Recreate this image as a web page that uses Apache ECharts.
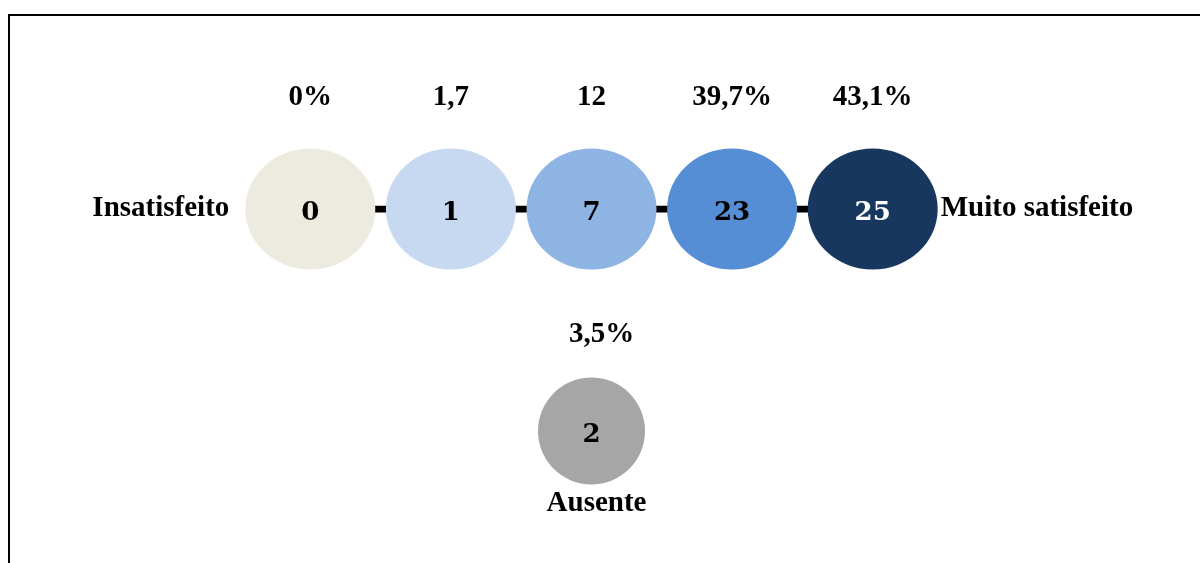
<!DOCTYPE html>
<html>
<head>
<meta charset="utf-8">
<script src="https://cdn.jsdelivr.net/npm/echarts@6/dist/echarts.min.js"></script>
<style>
  html, body { margin: 0; padding: 0; background: #fff; }
  #chart { width: 1200px; height: 563px; }
</style>
</head>
<body>
<div id="chart"></div>
<script>
// escala de satisfação
var escala = ['Insatisfeito', '2', '3', '4', 'Muito satisfeito'];
var linhas = ['Ausente', 'Escala'];
var contagens = [0, 1, 7, 23, 25];
var percentuais = ['0%', '1,7', '12', '39,7%', '43,1%'];
var cores = ['#EDEBE0', '#C6D9F0', '#8EB4E3', '#558ED5', '#17375E'];
var corTexto = ['#000', '#000', '#000', '#000', '#fff'];
var ausenteContagem = 2;
var ausentePercentual = '3,5%';
var ausenteCor = '#A6A6A6';
var ausenteIndice = 2;

var fonteRotulo = { fontFamily: 'Liberation Serif', fontWeight: 'bold', fontSize: 29, color: '#000' };
var fonteNumero = { fontFamily: 'DejaVu Serif', fontWeight: 'bold', fontSize: 26 };

function init(){
    var myChart = echarts.init(document.getElementById('chart'));

    var bolhas = contagens.map(function(v, i){
        return {
            value: [i, 1],
            itemStyle: { color: cores[i] },
            label: { formatter: String(v), color: corTexto[i] }
        };
    });
    bolhas.push({
        value: [ausenteIndice, 0],
        symbolSize: [107, 107],
        itemStyle: { color: ausenteCor },
        label: { formatter: String(ausenteContagem), color: '#000' }
    });

    var option = {
        animation: false,
        grid: { left: 240, right: 257, top: 209, bottom: 132 },
        xAxis: { type: 'category', data: escala, show: false },
        yAxis: { type: 'category', data: linhas, boundaryGap: false, show: false },
        graphic: [{
            type: 'rect',
            shape: { x: 9, y: 15, width: 1220, height: 600 },
            style: { fill: null, stroke: '#000', lineWidth: 2 }
        }],
        series: [
            {
                // conectores + percentuais
                type: 'line',
                z: 1,
                data: contagens.map(function(v, i){ return [i, 1]; }),
                symbol: 'circle',
                symbolSize: 1,
                itemStyle: { color: '#000' },
                lineStyle: { color: '#000', width: 7 },
                label: {
                    show: true,
                    position: 'top',
                    distance: 96,
                    formatter: function(p){ return percentuais[p.dataIndex]; },
                    fontFamily: fonteRotulo.fontFamily,
                    fontWeight: fonteRotulo.fontWeight,
                    fontSize: fonteRotulo.fontSize,
                    color: '#000'
                }
            },
            {
                type: 'scatter',
                z: 3,
                symbol: 'circle',
                symbolSize: [130, 121],
                itemStyle: { opacity: 1 },
                data: bolhas,
                label: {
                    show: true,
                    position: 'inside',
                    offset: [0, 4],
                    fontFamily: fonteNumero.fontFamily,
                    fontWeight: fonteNumero.fontWeight,
                    fontSize: fonteNumero.fontSize
                }
            },
            {
                // rótulos das extremidades e da opção ausente
                type: 'scatter',
                z: 4,
                symbol: 'circle',
                silent: true,
                itemStyle: { color: 'rgba(0,0,0,0)', opacity: 1 },
                label: {
                    show: true,
                    fontFamily: fonteRotulo.fontFamily,
                    fontWeight: fonteRotulo.fontWeight,
                    fontSize: fonteRotulo.fontSize,
                    color: '#000'
                },
                data: [
                    { value: [0, 1], symbolSize: [130, 121], label: { position: 'left', distance: 16, formatter: escala[0] } },
                    { value: [4, 1], symbolSize: [130, 121], label: { position: 'right', distance: 3, formatter: escala[4] } },
                    { value: [ausenteIndice, 0], symbolSize: [107, 107], label: { position: 'top', distance: 28, offset: [10, 0], formatter: ausentePercentual } },
                    { value: [ausenteIndice, 0], symbolSize: [107, 107], label: { position: 'bottom', distance: 5, offset: [5, 0], formatter: linhas[0] } }
                ]
            }
        ]
    };
    myChart.setOption(option);
}
init();
</script>
</body>
</html>
